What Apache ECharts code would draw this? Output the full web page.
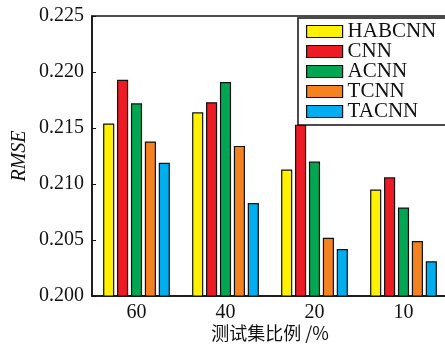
<!DOCTYPE html>
<html>
<head>
<meta charset="utf-8">
<script src="https://cdn.jsdelivr.net/npm/echarts@6/dist/echarts.min.js"></script>
<style>
  html, body { margin: 0; padding: 0; background: #fff; }
  #chart { width: 445px; height: 344px; }
</style>
</head>
<body>
<div id="chart"></div>
<script>
// Test-set ratio (%) on the x axis
const categories = ['60', '40', '20', '10'];

// RMSE for each model
const habcnn = [0.2154, 0.2164, 0.2113, 0.2095];
const cnn    = [0.2193, 0.2173, 0.2153, 0.2106];
const acnn   = [0.2172, 0.2191, 0.2120, 0.2079];
const tcnn   = [0.2138, 0.2134, 0.2052, 0.2049];
const tacnn  = [0.2119, 0.2083, 0.2042, 0.2031];

const seriesNames = ['HABCNN', 'CNN', 'ACNN', 'TCNN', 'TACNN'];
const seriesData = [habcnn, cnn, acnn, tcnn, tacnn];
const colors = ['#fff100', '#ed1c24', '#00a651', '#f58220', '#00aeef'];

const serif = '"Liberation Serif", "DejaVu Serif", serif';
const ink = '#111';

const chart = echarts.init(document.getElementById('chart'));

chart.setOption({
  animation: false,
  backgroundColor: '#fff',
  grid: {
    left: 92, right: -3, top: 16, bottom: 48,
    outerBoundsMode: 'none',
    containLabel: false,
    show: true, borderColor: ink, borderWidth: 1.5, backgroundColor: 'transparent'
  },
  legend: {
    left: 298, top: 18,
    orient: 'vertical',
    icon: 'rect',
    itemWidth: 36, itemHeight: 12, itemGap: -1,
    padding: [3, 10, 3, 8],
    backgroundColor: '#fff',
    borderColor: ink, borderWidth: 1.5,
    textStyle: { fontFamily: serif, fontSize: 21, color: ink },
    itemStyle: { borderColor: ink, borderWidth: 1.2 },
    data: seriesNames
  },
  xAxis: {
    type: 'category',
    data: categories,
    name: '测试集比例 /%',
    nameLocation: 'middle',
    nameGap: 28,
    nameMoveOverlap: false,
    nameTextStyle: { fontFamily: '"Noto Sans CJK SC", ' + serif, fontSize: 18, color: ink },
    axisLine: { lineStyle: { color: ink, width: 1.5 } },
    axisTick: { show: false },
    axisLabel: { fontFamily: serif, fontSize: 20, color: ink, margin: 7 }
  },
  yAxis: {
    type: 'value',
    min: 0.2, max: 0.225, interval: 0.005,
    name: 'RMSE',
    nameLocation: 'middle',
    nameGap: 62,
    nameMoveOverlap: false,
    nameTextStyle: { fontFamily: serif, fontStyle: 'italic', fontSize: 20, color: ink },
    axisLine: { show: true, lineStyle: { color: ink, width: 1.5 } },
    axisTick: { show: true, inside: true, length: 4, lineStyle: { color: ink } },
    splitLine: { show: false },
    axisLabel: {
      fontFamily: serif, fontSize: 20, color: ink, margin: 8,
      formatter: v => v.toFixed(3)
    }
  },
  series: seriesNames.map((name, i) => ({
    name,
    type: 'bar',
    data: seriesData[i],
    barGap: '25%',
    barCategoryGap: '25%',
    itemStyle: { color: colors[i], borderColor: ink, borderWidth: 1.2 }
  }))
});
</script>
</body>
</html>
